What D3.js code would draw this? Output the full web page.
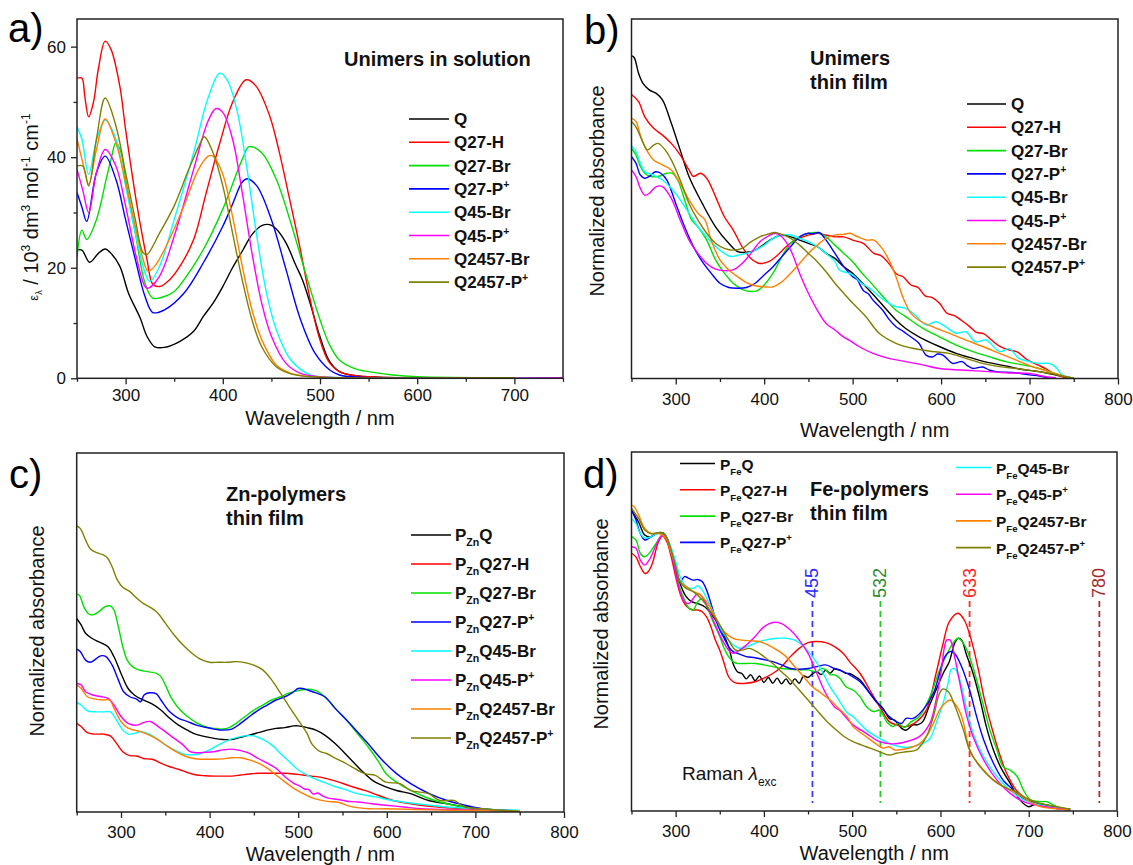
<!DOCTYPE html>
<html>
<head>
<meta charset="utf-8">
<script src="https://cdn.jsdelivr.net/npm/d3@7"></script>
<style>
  body { margin: 0; background: #fff; }
  svg { font-family: "Liberation Sans", Arial, sans-serif; }
</style>
</head>
<body>
<svg id="fig" width="1133" height="865"></svg>
<script>
// ---------- Panel a: unimers in solution (epsilon, 10^3 dm3 mol-1 cm-1) ----------
const aQ = [[250,23.2],[255,23.2],[263,21.0],[272,22.6],[279,23.4],[285,22.6],[294,20.3],[303,15.4],[315,10.9],[322,7.6],[330,5.7],[340,5.6],[356,6.7],[370,8.5],[380,11.2],[390,13.6],[400,16.6],[410,20.0],[421,23.3],[430,26.0],[440,27.6],[448,27.8],[455,27.0],[465,24.5],[475,20.5],[482,17.8],[490,13.5],[500,7.5],[510,3.0],[520,1.2],[535,0.5],[560,0.2],[700,0.1]];
const aQ27H = [[250,54.3],[255,54.3],[258,51],[262,47.3],[267,50],[272,56],[279,61.0],[285,59.5],[294,52.9],[300,45],[312,31],[322,21.5],[328,17],[335,16.6],[345,17.8],[356,20.3],[370,25.1],[383,33.6],[397,42.6],[410,49.9],[424,54],[434,52.9],[448,47.6],[458,41],[468,33],[479,24],[489,15],[499,7.5],[509,3.0],[520,1.2],[535,0.5],[560,0.2],[700,0.1]];
const aQ27Br = [[250,21.8],[255,26.8],[260,25.1],[270,28.7],[280,36],[285,39.6],[290,42.6],[295,41],[300,36],[310,26.3],[320,17.2],[328,14.5],[340,14.8],[350,15.7],[360,17.8],[380,23.3],[400,30.6],[420,39.6],[427,41.9],[440,40.8],[455,36],[470,28.1],[485,19.1],[500,10.6],[510,6],[520,3.3],[535,1.8],[550,1.2],[575,0.6],[600,0.3],[700,0.1]];
const aQ27P = [[250,33.6],[255,31],[260,28.4],[270,37.2],[279,40.2],[290,36],[300,28.7],[310,21.5],[320,14.8],[328,11.9],[340,12.4],[360,15.4],[380,20.9],[400,27.5],[410,31.5],[420,35.5],[425,36.1],[435,34.8],[450,28.7],[465,19.7],[480,10.6],[495,4.5],[510,1.5],[520,0.6],[540,0.2],[700,0.1]];
const aQ45Br = [[250,45.5],[255,43.3],[262,36.9],[270,43],[279,46.7],[290,43.3],[300,34.8],[310,26.3],[320,19.1],[325,17.5],[335,20.3],[350,28.7],[370,40.8],[385,50.8],[397,55.2],[405,53.8],[415,48.1],[425,37.8],[435,25.7],[445,15.4],[455,8.8],[470,3.3],[490,0.6],[510,0.2],[750,0.1]];
const aQ45P = [[250,37.8],[256,34],[262,30],[270,37.2],[279,41.4],[290,38.4],[300,31.2],[310,22.7],[320,16.6],[323,16.3],[335,18.5],[350,25.7],[370,37.8],[385,46.6],[393,48.8],[400,48.1],[410,43.3],[420,33.6],[430,22.7],[440,13.6],[450,7.6],[465,2.7],[480,0.9],[500,0.3],[750,0.1]];
const aQ2457Br = [[250,43.3],[256,39],[262,35.1],[270,41.4],[279,46.9],[290,42.6],[300,35.4],[310,27.5],[318,21.5],[323,19.4],[330,20.3],[345,25.1],[360,31.2],[375,37.8],[385,40.2],[390,40.2],[400,36.9],[410,29.3],[420,20.3],[430,12.4],[440,7],[455,2.4],[470,0.9],[490,0.3],[700,0.1]];
const aQ2457P = [[250,38.4],[256,38.4],[262,34.8],[270,43.3],[279,50.7],[290,45.7],[300,37.2],[310,28.7],[318,22.7],[322,22.4],[335,26.3],[350,31.2],[365,37.8],[377,42.6],[381,43.7],[390,40.8],[400,34.8],[410,26.3],[420,17.8],[430,10.6],[440,5.7],[455,2.1],[470,0.8],[490,0.3],[700,0.1]];

// ---------- Panel b: unimers, thin film (normalized, % of frame height) ----------
const bQ = [[250,89.8],[253,89.3],[258,84.9],[263,82.1],[270,80.3],[278,79.3],[285,77.5],[295,71],[305,63.6],[315,56.2],[330,48.7],[345,42.2],[360,37.6],[370,35.3],[380,35.1],[390,35.7],[400,37.4],[410,39],[420,39.9],[430,39.4],[440,38.5],[450,37.6],[460,36.7],[470,34.8],[480,33.4],[490,31.1],[500,29.3],[515,25.5],[530,21.5],[549,16.3],[560,13.9],[575,11.6],[598,8.9],[617,7],[636,5.6],[654,4.4],[673,3.5],[692,2.5],[711,1.9],[729,1],[745,0.3],[750,0.2]];
const bQ27H = [[250,79],[258,77],[265,72.8],[275,69.6],[285,67.7],[295,65.4],[305,62.2],[315,58],[320,56.2],[328,57.1],[335,55.7],[345,50.6],[355,45],[365,41.3],[375,36.7],[385,33.4],[395,32],[405,32.5],[415,34.3],[425,36.7],[435,38.5],[450,39.9],[460,40.4],[470,39.9],[480,39.4],[490,39.4],[500,38.5],[512,37.6],[524,34.8],[532,34.2],[541,32],[550,29],[557,28.3],[566,26],[574,25.3],[582,23],[590,22.5],[598,21],[607,18.1],[615,17.5],[624,16],[632,14.5],[640,12.8],[648,12.5],[657,10.7],[666,9],[677,7.9],[686,7.4],[698,5.1],[710,3.7],[720,2.5],[727,1.4],[739,0.3],[750,0.1]];
const bQ27Br = [[250,64],[255,62.2],[260,59],[265,57.1],[272,56.2],[280,56.2],[290,57.1],[296,57.1],[303,54.8],[310,49.7],[318,44.1],[325,42.2],[335,38.5],[345,33],[355,29.3],[365,26.5],[375,24.8],[385,24.2],[392,24.4],[400,26],[410,29.3],[420,33.9],[430,37.6],[440,39.4],[450,40.4],[460,40.6],[470,39.4],[480,37.1],[490,34.8],[500,32.5],[510,29.5],[520,26.8],[530,24],[538,21.8],[549,19],[560,17.2],[579,14],[598,11.6],[617,9.3],[636,7.5],[654,6.1],[673,4.7],[692,3.8],[711,2.8],[729,1.4],[745,0.3],[750,0.2]];
const bQ27P = [[250,61.7],[255,59.9],[260,56.6],[265,55.7],[270,56.2],[277,57.5],[283,57.1],[290,55.2],[300,48.7],[310,42.2],[320,36.7],[330,32.5],[340,29.3],[350,26.5],[360,25.3],[370,25.1],[380,25.3],[390,26.5],[400,28.8],[410,31.1],[420,33.9],[430,36.7],[440,39.4],[450,40.4],[455,40.2],[462,40.6],[470,38.5],[480,34.8],[490,31.1],[500,28.3],[505,27.5],[512,24.5],[518,23.5],[523,21.8],[534,19],[541,16.5],[549,14.4],[555,13.5],[560,12.6],[568,11.2],[575,9.8],[583,6.5],[590,6],[596,6.8],[602,6.5],[613,4.2],[619,4.5],[624,4.7],[630,3.5],[636,2.8],[641,3.0],[647,3.2],[655,2.3],[662,1.9],[684,1.6],[700,1.0],[711,0.7],[722,0.1]];
const bQ45Br = [[250,64.7],[255,63.1],[260,59.9],[265,57.5],[275,56.6],[285,55.2],[295,52.9],[305,49.7],[315,46],[325,42.2],[335,39.4],[345,36.7],[355,34.8],[363,33.9],[370,34.3],[380,34.8],[390,35.7],[400,37.1],[410,39],[420,39.9],[430,39.9],[440,39],[450,38],[460,36.7],[470,34.8],[480,32.5],[485,30.2],[490,29.7],[500,28.8],[510,26.5],[520,25],[530,22.8],[541,20.9],[549,20],[560,19.5],[571,17.6],[583,14.9],[594,15.8],[605,14.4],[617,12.6],[628,13],[639,10.2],[651,10.7],[666,7.5],[677,8.3],[688,5.6],[700,4.7],[711,4.2],[722,4.2],[729,3.3],[737,1],[745,0.3]];
const bQ45P = [[250,58],[255,56.2],[260,52.9],[265,51],[270,51.5],[278,53.4],[285,53.4],[295,50.1],[305,44.1],[315,38.5],[325,34.8],[335,32],[345,30.4],[355,30],[365,30.2],[375,32],[385,34.8],[395,38],[405,39.7],[413,40.4],[420,39.4],[430,35.7],[440,29.3],[450,23.7],[460,19],[470,15.3],[480,13.5],[490,11.5],[496,10.7],[507,8.9],[523,7],[541,5.6],[560,4.7],[579,3.8],[598,2.8],[636,2.2],[673,1.6],[703,1.3],[718,0.5],[730,0.2]];
const bQ2457Br = [[250,72.4],[255,71.5],[260,67.7],[267,63.6],[275,60.8],[285,59.4],[295,58],[305,54.3],[315,49.7],[325,46],[333,44.1],[340,38.5],[350,33],[360,30.2],[370,28.3],[380,26.7],[390,25.8],[400,25.5],[410,25.5],[420,26.9],[430,29.3],[440,32],[450,34.8],[460,37.1],[470,39],[480,39.9],[490,40.1],[497,40.4],[505,39.5],[516,38.5],[524,38.5],[532,36.6],[541,33],[549,28.3],[557,22.5],[566,18.1],[575,16.2],[590,14.4],[609,12.6],[628,10.7],[647,8.9],[666,7],[685,5.1],[703,3.3],[722,1.9],[745,0.3],[750,0.2]];
const bQ2457P = [[250,71.5],[255,70],[260,67.3],[265,64.5],[268,63.6],[275,64.9],[280,65.4],[288,63.6],[295,60.8],[305,55.2],[315,48.7],[325,44.1],[335,40.4],[345,37.6],[355,36.2],[365,35.7],[375,36.2],[385,38],[395,39.4],[405,40.2],[412,40.6],[420,40.1],[430,39],[440,37.1],[450,34.8],[460,32.5],[470,29.7],[480,26.5],[490,23.7],[500,21],[515,17.2],[530,12.6],[549,9.8],[568,8.4],[590,7.5],[609,7],[628,5.6],[647,4.2],[666,3.3],[685,2.8],[703,2.2],[726,1.3],[745,0.3],[750,0.2]];

// ---------- Panel c: Zn-polymers, thin film ----------
const cQ = [[250,53.9],[255,52.1],[260,49.8],[267,48.4],[275,47.4],[285,46.1],[292,43.3],[300,38.6],[308,34.4],[315,32.6],[325,31.2],[335,30.1],[345,28.4],[355,26.1],[365,24.2],[375,22.8],[385,21.6],[395,21],[405,20.5],[415,20.2],[425,20.2],[435,20.8],[445,21.4],[455,22.1],[465,22.8],[475,23.3],[485,23.5],[495,24],[500,24],[510,23.5],[520,22.8],[530,21.4],[542,19],[558,15],[575,10.7],[587,8.3],[599,7],[611,6],[627,5.1],[647,3.2],[668,2.3],[688,1.4],[708,0.9],[728,0.5],[750,0.3]];
const cQ27H = [[250,24.7],[255,23.8],[262,22.1],[270,21.7],[280,21.7],[288,21.2],[295,19.1],[302,16.8],[310,15.7],[318,15.6],[325,14.9],[335,14.7],[345,13.6],[355,12.6],[365,11.9],[375,11],[385,10.3],[395,10.1],[405,10],[415,10],[425,10],[435,10.3],[445,10.6],[455,10.8],[465,10.8],[475,10.8],[485,10.8],[495,10.6],[505,10.3],[515,10],[525,9.7],[535,9.1],[545,8.4],[559,7.2],[575,6],[591,4.6],[607,3.2],[627,2.3],[648,1.6],[668,1.2],[688,0.9],[728,0.5],[750,0.3]];
const cQ27Br = [[250,60.7],[253,60.4],[258,57.2],[263,55.3],[268,54.9],[275,55.8],[282,57.2],[288,57.4],[292,56.3],[297,51.6],[302,46.1],[307,42.3],[313,40.5],[320,39.6],[330,39.1],[340,38.6],[345,37.7],[350,35.4],[357,31.7],[365,28.9],[375,26.6],[385,24.9],[395,23.8],[405,23.3],[415,23.1],[422,23.5],[430,24.7],[440,26.6],[450,28.4],[460,29.8],[470,31.2],[480,32.1],[490,33.2],[500,33.8],[510,34.2],[520,33.8],[530,32.1],[542,28.8],[555,25.5],[567,21.8],[579,18.1],[591,13.9],[599,10.7],[611,8.3],[627,6],[648,3.7],[668,2.3],[688,1.4],[708,0.6],[730,0.3]];
const cQ27P = [[250,45.4],[254,44.7],[260,42.3],[265,41.7],[270,42.3],[277,43.5],[283,43.3],[290,40.9],[297,36.8],[303,33.5],[310,32.1],[318,31.4],[322,30.7],[326,32.6],[332,33.2],[340,32.9],[345,31.2],[355,27.9],[365,26.1],[375,25.2],[385,24.2],[395,23.6],[405,23.1],[415,22.8],[425,23.1],[435,24.7],[445,26.6],[455,28.4],[465,29.8],[475,31.2],[485,32.1],[493,33.2],[500,34.4],[505,34.4],[510,34],[520,33.2],[530,32.1],[542,28.8],[555,25.5],[567,22.3],[579,19],[595,14.4],[611,10.7],[627,7.9],[648,5.1],[668,3.2],[688,1.9],[708,0.9],[728,0.5],[750,0.3]];
const cQ45Br = [[250,30.5],[255,29.8],[262,28.2],[270,27.9],[280,27.9],[288,27.9],[295,25.6],[302,22.8],[308,21.7],[315,21.9],[322,22.4],[330,21.9],[340,20.5],[350,18.7],[360,17.3],[370,16.2],[380,15.9],[390,16.3],[400,17.3],[410,18.7],[420,19.9],[430,20.7],[440,21.2],[450,21.2],[460,20.2],[470,18.7],[480,16.3],[490,14],[500,11.7],[510,10.3],[520,9.1],[530,8.2],[540,7.2],[550,6.5],[567,5.1],[587,4.2],[607,3.2],[627,2.5],[648,1.9],[668,1.4],[688,1.1],[728,0.6],[750,0.5]];
const cQ45P = [[250,35.8],[255,35.4],[260,33.5],[268,32.6],[278,32.1],[285,31.7],[292,29.8],[300,26.6],[308,24.7],[318,24.2],[325,24.9],[333,25.2],[342,23.8],[350,22.4],[360,20.5],[370,18.7],[378,16.8],[385,16.5],[395,16.6],[405,16.8],[415,17.3],[425,17.5],[435,17.1],[445,16.3],[455,14.9],[465,13.6],[475,12.2],[485,9.8],[495,8],[502,7.2],[507,6.4],[512,6.2],[517,5.0],[522,5.3],[528,4.4],[535,3.8],[545,3.5],[555,3.0],[567,2.8],[583,2.3],[599,1.9],[619,1.4],[639,0.9],[668,0.7],[708,0.5],[740,0.3]];
const cQ2457Br = [[250,35.4],[255,34.4],[262,32.1],[270,31.5],[280,31.2],[287,31.2],[293,28.4],[300,25.2],[307,23.5],[315,22.8],[322,22.4],[332,21.4],[342,20.1],[352,18.4],[362,16.8],[372,15.6],[382,14.9],[392,14.7],[405,14.7],[415,14.8],[425,15.1],[435,15.1],[445,14.5],[455,13.6],[465,12.2],[475,10.3],[485,8.4],[495,6.6],[505,5.2],[515,4],[525,3.3],[535,2.9],[545,2.7],[560,1.5],[580,0.9],[600,0.9],[650,0.6],[700,0.4],[750,0.2]];
const cQ2457P = [[250,79.7],[254,79],[260,75.8],[265,73.4],[270,72.5],[280,71.6],[285,70.7],[290,68.3],[296,64.6],[302,62.6],[310,61.4],[318,59.5],[325,58.1],[335,56.7],[342,55.3],[350,52.6],[360,49.3],[370,46.5],[380,44.2],[390,42.5],[400,41.7],[410,41.7],[420,41.7],[430,41.9],[440,41.6],[450,40.9],[460,39.6],[470,36.8],[480,33.1],[490,29.3],[500,25.6],[510,21.9],[515,19.1],[520,17.7],[525,16.8],[532,16.3],[540,15.2],[550,14],[559,12.8],[575,10.7],[587,10.2],[599,8.3],[615,7.9],[627,6],[647,5.1],[660,3.2],[676,3.2],[688,1.4],[708,0.9],[728,0.5],[748,0.3]];

// ---------- Panel d: Fe-polymers, thin film ----------
const dQ = [[250,83.8],[258,80.5],[265,76.9],[272,76.4],[280,77.5],[287,77.3],[293,74.1],[300,68.1],[305,63.4],[312,59.7],[318,58.3],[325,57.8],[333,56.9],[340,55],[350,51.3],[360,45.8],[365,41.1],[370,38.8],[375,38.3],[380,36.8],[385,38.0],[390,36.3],[395,37.6],[400,35.8],[405,37.2],[410,35.6],[415,37.0],[420,35.4],[425,36.8],[430,35.3],[435,36.8],[440,35.6],[445,37.6],[450,37.2],[455,38.2],[460,38.8],[465,38.0],[470,39.2],[475,38.4],[480,39.5],[486,39.3],[492,38.4],[497,38.3],[503,37.5],[509,36.5],[520,32.8],[527,30.5],[535,28.6],[542,25.8],[548,25.3],[556,23],[561,22.5],[569,24],[574,24],[580,24.9],[587,29.1],[595,33.7],[603,38.3],[610,41.6],[616,46.7],[620,48.1],[624,47.6],[629,43.9],[637,38.3],[645,30.9],[652,23.5],[660,17],[668,12.3],[679,7.7],[690,3.1],[700,1.2],[709,2.1],[720,1.7],[736,0.7],[747,0.5]];
const dQ27H = [[250,71.8],[255,70.8],[260,68.1],[265,66.2],[268,66.4],[273,68.5],[280,74.6],[285,76.6],[290,75],[295,70.8],[300,65.3],[305,60.6],[310,57.8],[315,56.5],[320,56],[325,56],[330,55.5],[335,54.1],[340,51.3],[345,47.6],[350,44.8],[355,41.1],[360,37.4],[365,36],[370,35.6],[380,35.6],[390,36],[400,37],[410,38.3],[420,40.2],[430,43],[440,45.3],[450,46.9],[460,47.2],[470,46.9],[480,45.8],[490,43.9],[497,41.6],[509,38.3],[520,33.7],[531,29.1],[542,24.9],[550,24],[561,23.5],[573,24.9],[584,28.1],[595,38.3],[603,46.7],[610,52.7],[620,55.1],[627,53.2],[635,47.6],[643,39.3],[650,30.9],[660,21.6],[668,15.1],[675,10.5],[686,5.8],[698,3.1],[713,1.7],[732,0.7],[747,0.3]];
const dQ27Br = [[250,76.4],[255,75.5],[260,71.8],[265,70.8],[270,71.8],[278,74.6],[285,76.9],[290,76],[295,72.2],[300,67.1],[305,62],[310,58.8],[315,56.5],[320,56],[325,58.3],[330,59.2],[335,57.4],[340,54.1],[345,51.3],[350,48.6],[355,45.3],[360,43],[365,41.6],[370,41.1],[380,41.1],[390,41.1],[400,40.7],[410,40.2],[420,39.7],[430,39.5],[440,39.3],[450,39.3],[460,38.8],[465,39.8],[470,39.3],[475,38.0],[480,37.9],[486,37],[493,34.6],[501,33.7],[509,31.8],[516,29.1],[524,27.7],[531,28.1],[539,24.9],[546,23.5],[552,24.4],[559,23.3],[567,24.9],[576,26.3],[588,31.8],[599,39.3],[607,43.5],[614,46.7],[620,48.1],[626,46.7],[633,43],[641,36.5],[649,29.1],[656,22.6],[664,17],[671,12.3],[679,11.4],[687,9.6],[694,5.8],[702,3.1],[713,2.6],[720,2.6],[732,1.2],[747,0.5]];
const dQ27P = [[250,83.8],[255,81.1],[260,77.3],[265,75.5],[270,76],[278,77.3],[285,77.3],[290,76],[295,71.8],[300,67.1],[305,63.9],[310,65.3],[315,64.8],[320,64.3],[325,64.5],[330,63.9],[335,61.6],[340,57.8],[345,53.7],[350,50.4],[355,48.1],[360,45.8],[365,44.4],[370,43.9],[380,43],[390,42.7],[400,42.2],[410,41.6],[420,40.7],[430,39.7],[440,39.5],[450,39.7],[460,40.2],[470,40.7],[480,39.7],[490,38.8],[497,37.9],[509,36],[520,32.8],[531,29.5],[542,26.3],[550,24.9],[556,24.4],[561,25.8],[569,25.8],[580,28.1],[592,32.8],[599,38.3],[605,43],[611,44.4],[616,43.9],[624,40.2],[633,33.7],[641,26.3],[649,19.8],[660,13.3],[671,8.6],[683,5.8],[694,3.5],[713,1.7],[732,0.7],[747,0.3]];
const dQ45Br = [[250,81.5],[255,80.1],[260,77.3],[265,76],[272,76.4],[280,77.3],[287,77.2],[293,74.6],[300,69.5],[305,65.3],[312,62.5],[320,62],[325,62.7],[330,61.6],[338,57.8],[345,54.1],[352,50.4],[360,47.6],[368,45.8],[375,45.3],[385,46.2],[395,47.2],[405,47.8],[415,48.1],[425,48.1],[435,47.6],[445,45.8],[455,43],[465,39.3],[475,34.6],[485,30.9],[495,27.2],[501,26.3],[516,22.6],[531,20.2],[546,18.4],[561,17.7],[576,18.4],[588,20.2],[595,24.4],[603,30],[609,36],[612,39.3],[616,39.7],[622,36.5],[629,29.1],[637,21.6],[649,15.1],[664,9.6],[679,5.8],[694,3.1],[713,1.7],[747,0.3]];
const dQ45P = [[250,73.6],[255,73.2],[260,69.9],[265,68.5],[270,69.9],[278,74.1],[285,76.9],[290,76],[295,71.8],[300,66.2],[305,61.1],[310,58.3],[315,57.8],[320,59.2],[325,60.6],[330,59.7],[335,57.4],[340,54.6],[345,51.8],[350,49],[355,46.7],[360,44.8],[365,43.9],[370,44.4],[380,46.2],[390,48.6],[400,51.3],[410,52.5],[420,52.2],[430,50.4],[440,47.6],[450,43.9],[460,38.3],[470,32.8],[480,29],[486,28],[495,25.5],[501,24],[516,21.6],[531,19.3],[546,18.7],[561,19.3],[576,20.7],[588,24.4],[595,30.9],[601,39.3],[607,47.6],[611,47.6],[616,43],[622,35.6],[629,27.2],[637,20.7],[649,14.2],[664,8.6],[679,4.9],[694,2.6],[713,1.4],[747,0.3]];
const dQ2457Br = [[250,85.2],[253,84.8],[258,82.5],[265,78.7],[272,77.3],[280,77.3],[285,76.9],[290,75.5],[295,71.8],[300,68.1],[305,63.9],[312,62.5],[320,61.1],[328,60.2],[335,58.3],[345,54.1],[355,50],[365,48.1],[375,47.6],[385,47.4],[395,47.2],[405,46.2],[415,44.8],[425,43],[435,40.2],[445,37.4],[455,34.6],[465,32.8],[475,30.9],[485,28.5],[495,26],[501,23.5],[516,20.7],[527,18.7],[535,17.5],[542,17.9],[548,17],[558,17.2],[569,17.9],[576,18.7],[584,20.7],[592,24.4],[599,28.1],[605,30],[611,30.9],[616,30],[624,26.3],[632,17.9],[637,15.1],[649,11.4],[660,8.6],[675,6.3],[686,4.9],[698,3.1],[713,1.2],[732,0.6],[747,0.3]];
const dQ2457P = [[250,84.3],[258,81.5],[265,78.3],[272,77.3],[280,77.5],[287,77.2],[293,74.1],[300,68.1],[305,63.9],[312,62],[320,61.1],[330,58.8],[340,55.5],[350,51.8],[360,47.6],[368,44.8],[375,44.8],[383,45.3],[392,44.4],[400,43],[410,41.1],[420,38.8],[430,36.5],[440,33.7],[450,30.9],[460,28.1],[470,25.3],[480,23],[490,20.9],[501,19.3],[516,17.9],[531,16.5],[542,15.6],[550,16.1],[561,16.5],[573,17],[584,20.7],[592,26.3],[599,32.8],[603,34],[609,33.2],[616,29.5],[626,22.6],[633,17],[645,12.3],[660,8.6],[675,6.3],[686,5.4],[698,3.5],[713,2.1],[732,1.2],[747,0.5]];

// Raman excitation wavelengths (nm)
const ramanNm = [455, 532, 633, 780];
const ramanLabels = ["455", "532", "633", "780"];

// Series names (a "+" suffix is drawn as a superscript)
const compounds = ["Q", "Q27-H", "Q27-Br", "Q27-P+", "Q45-Br", "Q45-P+", "Q2457-Br", "Q2457-P+"];
const seriesColors = ["#000000", "#ff0000", "#00e000", "#0000ff", "#00ffff", "#ff00ff", "#ff8000", "#808000"];
const ramanColors = ["#3b3bff", "#22cc22", "#ff2a2a", "#a33333"];
const ramanTextColors = ["#2a2aff", "#2e8b2e", "#ff2222", "#a52a2a"];

const svg = d3.select("#fig");
const axisColor = "#222";

// text with optional super/subscript runs: parts = [[string, kind, size]]
function rich(parent, x, y, parts, base) {
  const t = parent.append("text").attr("x", x).attr("y", y)
    .attr("font-size", base.size).attr("font-weight", base.weight || "normal")
    .attr("fill", base.fill || "#000");
  if (base.anchor) t.attr("text-anchor", base.anchor);
  if (base.transform) t.attr("transform", base.transform);
  let cur = 0;
  parts.forEach(([str, kind, sz]) => {
    let target = 0;
    if (kind === "sup") target = -(base.supShift || base.size * 0.42);
    if (kind === "sub") target = (base.subShift || base.size * 0.3);
    const ts = t.append("tspan").text(str).attr("dy", target - cur);
    cur = target;
    if (kind === "sup" || kind === "sub") ts.attr("font-size", sz || base.size * 0.62);
    else if (sz) ts.attr("font-size", sz);
    if (kind === "it") ts.attr("font-style", "italic");
  });
  return t;
}

function nameParts(name, prefixSub) {
  const parts = [];
  if (prefixSub) { parts.push(["P", null]); parts.push([prefixSub, "sub"]); }
  if (name.endsWith("+")) { parts.push([name.slice(0, -1), null]); parts.push(["+", "sup"]); }
  else parts.push([name, null]);
  return parts;
}

function panel(cfg) {
  const x = d3.scaleLinear().domain(cfg.xDomain).range([cfg.left, cfg.right]);
  const y = d3.scaleLinear().domain(cfg.yDomain).range([cfg.bottom, cfg.top]);
  const g = svg.append("g");
  const pad = cfg.tickPad || 8;

  // minor + major x ticks
  const allTicks = d3.range(cfg.xDomain[0], cfg.xDomain[1] + 1, 50);
  g.append("g").attr("transform", `translate(0,${cfg.bottom})`)
    .call(d3.axisBottom(x).tickValues(allTicks.filter(v => v % 100 !== 0)).tickSize(3.5).tickFormat(""))
    .call(s => s.select(".domain").remove())
    .call(s => s.selectAll("line").attr("stroke", axisColor).attr("stroke-width", 1.3));
  g.append("g").attr("transform", `translate(0,${cfg.bottom})`)
    .call(d3.axisBottom(x).tickValues(cfg.xLabels).tickSize(6).tickPadding(pad).tickFormat(d3.format("d")))
    .call(s => s.select(".domain").remove())
    .call(s => s.selectAll("line").attr("stroke", axisColor).attr("stroke-width", 1.3))
    .call(s => s.selectAll("text").attr("font-size", 17).attr("fill", "#111")
      .attr("font-family", "'Liberation Sans', Arial, sans-serif"));

  if (cfg.yTicks) {
    g.append("g").attr("transform", `translate(${cfg.left},0)`)
      .call(d3.axisLeft(y).tickValues(cfg.yMinor).tickSize(3.5).tickFormat(""))
      .call(s => s.select(".domain").remove())
      .call(s => s.selectAll("line").attr("stroke", axisColor).attr("stroke-width", 1.3));
    g.append("g").attr("transform", `translate(${cfg.left},0)`)
      .call(d3.axisLeft(y).tickValues(cfg.yTicks).tickSize(6).tickPadding(5).tickFormat(d3.format("d")))
      .call(s => s.select(".domain").remove())
      .call(s => s.selectAll("line").attr("stroke", axisColor).attr("stroke-width", 1.3))
      .call(s => s.selectAll("text").attr("font-size", 17).attr("fill", "#111")
        .attr("font-family", "'Liberation Sans', Arial, sans-serif"));
  }

  // clip the spectra to the frame
  const clipId = "clip-" + cfg.id;
  svg.append("clipPath").attr("id", clipId).append("rect")
    .attr("x", cfg.left).attr("y", cfg.top)
    .attr("width", cfg.right - cfg.left).attr("height", cfg.bottom - cfg.top);

  if (cfg.raman) cfg.raman(g, x, y);

  const line = d3.line().x(d => x(d[0])).y(d => y(d[1])).curve(d3.curveCatmullRom.alpha(0.5));
  const curves = g.append("g").attr("clip-path", `url(#${clipId})`);
  cfg.series.forEach((s, i) => {
    curves.append("path").datum(s).attr("d", line)
      .attr("fill", "none").attr("stroke", seriesColors[i]).attr("stroke-width", 1.4)
      .attr("stroke-linejoin", "round");
  });

  // frame
  g.append("rect").attr("x", cfg.left).attr("y", cfg.top)
    .attr("width", cfg.right - cfg.left).attr("height", cfg.bottom - cfg.top)
    .attr("fill", "none").attr("stroke", axisColor).attr("stroke-width", 1.5);

  // axis titles
  g.append("text").attr("x", (cfg.left + cfg.right) / 2).attr("y", cfg.xTitleY)
    .attr("text-anchor", "middle").attr("font-size", 20).attr("fill", "#111").text("Wavelength / nm");
  if (cfg.yTitle) cfg.yTitle(g);

  // panel letter
  g.append("text").attr("x", cfg.letterX).attr("y", cfg.letterY)
    .attr("font-size", 40).attr("fill", "#000").text(cfg.letter);

  // titles
  cfg.titleLines.forEach((t, i) => {
    g.append("text").attr("x", cfg.titleX).attr("y", cfg.titleY + i * 24)
      .attr("font-size", 20).attr("font-weight", "bold").attr("fill", "#111").text(t);
  });

  // legend
  cfg.legend.forEach(col => {
    col.items.forEach((idx, k) => {
      const yy = col.y0 + k * col.step;
      g.append("line").attr("x1", col.x1).attr("x2", col.x2).attr("y1", yy - 6).attr("y2", yy - 6)
        .attr("stroke", seriesColors[idx]).attr("stroke-width", 1.6);
      rich(g, col.tx, yy, nameParts(compounds[idx], cfg.prefix),
        { size: col.size, weight: "bold", fill: "#111", subShift: 5, supShift: 7 });
    });
  });
  return { x, y, g };
}

const normLabel = (cx, cy) => g => g.append("text")
  .attr("transform", `translate(${cx},${cy}) rotate(-90)`)
  .attr("text-anchor", "middle").attr("font-size", 20).attr("fill", "#111").text("Normalized absorbance");

// a)
panel({
  id: "a", left: 77, right: 563, top: 19, bottom: 378.3,
  xDomain: [250, 750], yDomain: [0, 65], xLabels: [300, 400, 500, 600, 700],
  yTicks: [0, 20, 40, 60], yMinor: [10, 30, 50], tickPad: 5,
  series: [aQ, aQ27H, aQ27Br, aQ27P, aQ45Br, aQ45P, aQ2457Br, aQ2457P],
  xTitleY: 425, letter: "a)", letterX: 8, letterY: 42,
  titleLines: ["Unimers in solution"], titleX: 344, titleY: 66,
  legend: [{ items: [0,1,2,3,4,5,6,7], x1: 409, x2: 449, tx: 454, y0: 125, step: 23.3, size: 17 }],
  yTitle: g => rich(g, 0, 0, [["\u03B5", null, 13], ["\u03BB", "sub", 9], [" / 10", null], ["3", "sup", 12], [" dm", null], ["3", "sup", 12], [" mol", null], ["-1", "sup", 12], [" cm", null], ["-1", "sup", 12]],
    { size: 20, fill: "#111", anchor: "middle", transform: "translate(38,207) rotate(-90)", supShift: 8, subShift: 4 })
});

// b)
panel({
  id: "b", left: 631.5, right: 1118, top: 19, bottom: 378.5,
  xDomain: [250, 800], yDomain: [0, 100], xLabels: [300, 400, 500, 600, 700, 800],
  series: [bQ, bQ27H, bQ27Br, bQ27P, bQ45Br, bQ45P, bQ2457Br, bQ2457P],
  xTitleY: 437, letter: "b)", letterX: 584, letterY: 44,
  titleLines: ["Unimers", "thin film"], titleX: 810, titleY: 65,
  legend: [{ items: [0,1,2,3,4,5,6,7], x1: 967, x2: 1006, tx: 1011, y0: 110, step: 23.3, size: 17 }],
  yTitle: normLabel(604, 191)
});

// c)
panel({
  id: "c", left: 76.7, right: 564, top: 453, bottom: 812,
  xDomain: [250, 800], yDomain: [0, 100], xLabels: [300, 400, 500, 600, 700, 800],
  series: [cQ, cQ27H, cQ27Br, cQ27P, cQ45Br, cQ45P, cQ2457Br, cQ2457P],
  xTitleY: 861, letter: "c)", letterX: 9, letterY: 488,
  titleLines: ["Zn-polymers", "thin film"], titleX: 226, titleY: 501,
  prefix: "Zn",
  legend: [{ items: [0,1,2,3,4,5,6,7], x1: 411, x2: 451, tx: 455, y0: 541, step: 29, size: 17 }],
  yTitle: normLabel(44, 631)
});

// d)
panel({
  id: "d", left: 631.5, right: 1117, top: 452, bottom: 811,
  xDomain: [250, 800], yDomain: [0, 100], xLabels: [300, 400, 500, 600, 700, 800],
  series: [dQ, dQ27H, dQ27Br, dQ27P, dQ45Br, dQ45P, dQ2457Br, dQ2457P],
  xTitleY: 860, letter: "d)", letterX: 583, letterY: 488,
  titleLines: ["Fe-polymers", "thin film"], titleX: 810, titleY: 496,
  prefix: "Fe",
  legend: [
    { items: [0,1,2,3], x1: 680, x2: 715, tx: 720, y0: 469.5, step: 26.3, size: 15.5 },
    { items: [4,5,6,7], x1: 956, x2: 991, tx: 996, y0: 473.5, step: 26.7, size: 15.5 }
  ],
  yTitle: normLabel(608, 624),
  raman: (g, x, y) => {
    ramanNm.forEach((nm, i) => {
      const xx = x(nm);
      g.append("line").attr("x1", xx).attr("x2", xx).attr("y1", 601).attr("y2", 803)
        .attr("stroke", ramanColors[i]).attr("stroke-width", 1.8).attr("stroke-dasharray", "6,4");
      g.append("text").attr("transform", `translate(${xx + 6},${598}) rotate(-90)`)
        .attr("font-size", 18).attr("fill", ramanTextColors[i]).text(ramanLabels[i]);
    });
    rich(g, 682, 780, [["Raman ", null], ["\u03BB", "it"], ["exc", "sub", 12]],
      { size: 19, fill: "#111", subShift: 6 });
  }
});
</script>
</body>
</html>
